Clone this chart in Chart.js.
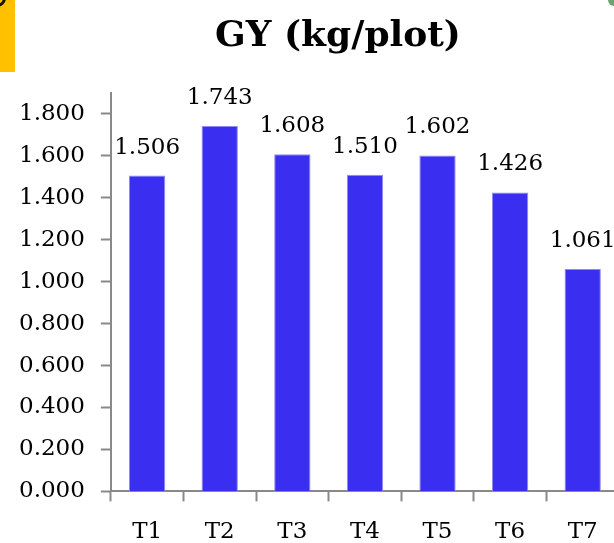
<!DOCTYPE html>
<html>
<head>
<meta charset="utf-8">
<script src="https://cdn.jsdelivr.net/npm/chart.js@4.4.1/dist/chart.umd.min.js"></script>
<style>
  html, body { margin: 0; padding: 0; background: #fff; overflow: hidden; }
  #wrap { position: relative; width: 614px; height: 543px; overflow: hidden; }
  #tab { position: absolute; left: 0; top: 0; width: 15px; height: 72px; background: #ffc000; }
  #ring { position: absolute; left: -12px; top: -11px; width: 12px; height: 12px; border: 3px solid #111; border-radius: 50%; }
  #leaf { position: absolute; left: 608px; top: -6px; width: 12px; height: 12px; background: #2e7d32; border-radius: 50%; opacity: 0.7; }
  canvas { position: absolute; left: 0; top: 0; }
</style>
</head>
<body>
<div id="wrap">
  <canvas id="gy-chart" width="676" height="563"></canvas>
  <div id="tab"></div>
  <div id="ring"></div>
  <div id="leaf"></div>
</div>
<script>
const chartTitle = 'GY (kg/plot)';
const treatments = ['T1', 'T2', 'T3', 'T4', 'T5', 'T6', 'T7'];
const grainYield = [1.506, 1.743, 1.608, 1.510, 1.602, 1.426, 1.061];
const yTicks = [0, 0.2, 0.4, 0.6, 0.8, 1.0, 1.2, 1.4, 1.6, 1.8];

const numFont = { family: 'DejaVu Serif', size: 23 };
const axisGrey = '#898989';

// title drawn by hand so it can sit off-centre like the slide
const slideTitle = {
    id: 'slideTitle',
    afterDraw(chart) {
        const ctx = chart.ctx;
        ctx.save();
        ctx.font = 'bold 36px DejaVu Serif';
        ctx.fillStyle = '#000';
        ctx.textAlign = 'center';
        ctx.textBaseline = 'alphabetic';
        ctx.fillText(chartTitle, 338, 46);
        ctx.restore();
    }
};

// value labels above bars
const valueLabels = {
    id: 'valueLabels',
    afterDatasetsDraw(chart) {
        const ctx = chart.ctx;
        const meta = chart.getDatasetMeta(0);
        ctx.save();
        ctx.font = numFont.size + 'px ' + numFont.family;
        ctx.fillStyle = '#000';
        ctx.textAlign = 'center';
        ctx.textBaseline = 'middle';
        meta.data.forEach(function (bar, i) {
            ctx.fillText(grainYield[i].toFixed(3), bar.x, bar.y - 28);
        });
        ctx.restore();
    }
};

let ctx = document.getElementById('gy-chart').getContext('2d');
new Chart(ctx, {
    type: 'bar',
    data: {
        labels: treatments,
        datasets: [{
            label: chartTitle,
            data: grainYield,
            backgroundColor: '#3a2ff0',
            borderColor: '#8f8af5',
            borderWidth: 1,
            barPercentage: 0.5,
            categoryPercentage: 1
        }]
    },
    options: {
        responsive: false,
        animation: false,
        layout: { padding: { left: 3, right: 57, top: 93, bottom: 0 } },
        plugins: {
            legend: { display: false },
            tooltip: { enabled: false },
            title: { display: false }
        },
        scales: {
            x: {
                offset: true,
                grid: {
                    offset: true,
                    drawOnChartArea: false,
                    drawTicks: true,
                    tickLength: 10,
                    tickColor: axisGrey,
                    tickWidth: 2
                },
                border: { color: axisGrey, width: 2 },
                ticks: { color: '#000', font: numFont, padding: 17 }
            },
            y: {
                min: 0,
                max: 1.9,
                afterBuildTicks(scale) {
                    scale.ticks = yTicks.map(v => ({ value: v }));
                },
                grid: {
                    drawOnChartArea: false,
                    drawTicks: true,
                    tickLength: 10,
                    tickColor: axisGrey,
                    tickWidth: 2
                },
                border: { color: axisGrey, width: 2 },
                ticks: {
                    color: '#000',
                    font: numFont,
                    padding: 16,
                    callback: v => Number(v).toFixed(3)
                }
            }
        }
    },
    plugins: [valueLabels, slideTitle]
});
</script>
</body>
</html>
